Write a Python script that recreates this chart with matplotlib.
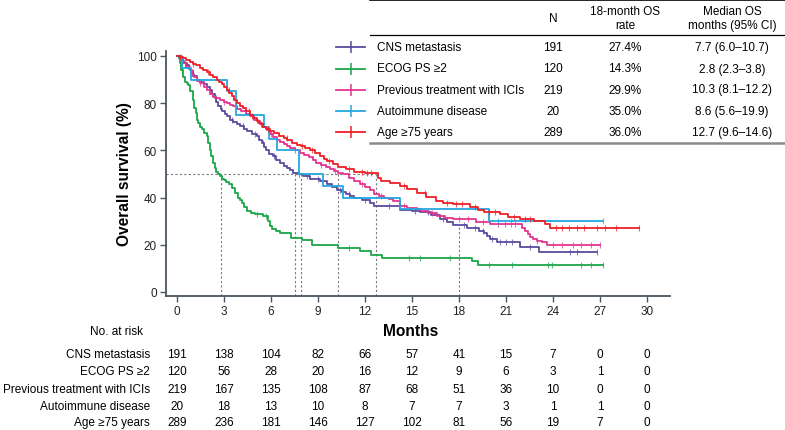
import numpy as np
import matplotlib
matplotlib.use("Agg")
import matplotlib.pyplot as plt
from matplotlib.lines import Line2D
from matplotlib.transforms import blended_transform_factory

plt.rcParams['font.family'] = ['Liberation Sans', 'DejaVu Sans']

W, H = 785, 431

# Kaplan-Meier curves (months, survival %)
groups = ["CNS metastasis", "ECOG PS \u22652", "Previous treatment with ICIs",
          "Autoimmune disease", "Age \u226575 years"]
colors = ["#5b4b9e", "#1aa64b", "#e5358f", "#25a7e0", "#ee1f26"]

cns_t = [0, 0.15, 0.3, 0.45, 0.62, 0.75, 0.9, 1.05, 1.26, 1.45, 1.7, 1.9, 2.1, 2.25, 2.4,
         2.52, 2.64, 2.8, 2.9, 3.05, 3.17, 3.4, 3.6, 3.8, 4.0, 4.25, 4.5, 4.8, 5.1, 5.25,
         5.4, 5.55, 5.7, 5.9, 6.1, 6.3, 6.57, 6.8, 7.0, 7.2, 7.42, 7.7, 8.06, 8.5, 9.1,
         9.6, 9.9, 10.2, 10.5, 10.8, 11.05, 11.3, 11.8, 12.3, 12.6, 14.2, 15.0, 15.5,
         16.2, 16.8, 17.2, 17.6, 18.5, 19.3, 19.6, 19.8, 20.0, 20.4, 21.9, 23.1]
cns_s = [100, 99, 98, 97, 96, 94.5, 93, 91.5, 90, 89, 88, 87, 85.7, 84, 82,
         80.5, 78.6, 77.5, 76.5, 75.5, 74.4, 73, 72, 71, 70.2, 69, 68, 67, 66, 64.5,
         63, 61.5, 60.3, 58.5, 57.5, 56, 54.7, 53.5, 52.5, 51.5, 50.5, 49.8, 49, 48, 47,
         45.6, 44.5, 43, 42.2, 41.5, 40.8, 40, 39, 37.8, 36.4, 34.7, 34.3, 33.9,
         32.5, 31.1, 29.8, 28.3, 27.3, 26, 25.2, 23.8, 22.4, 21.2, 19.2, 17.0]
cns_end = 26.8
cns_cens = [0.3, 1.0, 2.5, 3.5, 4.2, 5.0, 5.5, 6.2, 7.8, 8.3, 9.0, 10.4, 11.0, 12.0, 13.5,
            15.2, 16.0, 17.0, 18.3, 19.0, 19.5, 20.1, 20.6, 21.0, 21.4, 22.5, 25.1, 25.5,
            26.8]

ecog_t = [0, 0.1, 0.19, 0.28, 0.36, 0.5, 0.62, 0.72, 0.85, 1.0, 1.1, 1.2, 1.3, 1.36, 1.5,
          1.6, 1.75, 1.9, 2.0, 2.1, 2.2, 2.32, 2.42, 2.5, 2.62, 2.74, 2.87, 3.0, 3.15,
          3.3, 3.5, 3.7, 3.9, 4.0, 4.13, 4.3, 4.5, 4.75, 5.0, 5.5, 5.8, 5.93, 6.05, 6.3,
          6.57, 7.3, 7.96, 8.6, 10.3, 11.7, 12.4, 13.1, 18.8, 19.2]
ecog_s = [100, 99, 97, 94, 91, 89, 88.5, 87.8, 85, 81.4, 78, 76, 73, 71.6, 70,
          69, 67.5, 66, 63, 60, 57.5, 54.7, 52.5, 51, 50, 49, 48, 47.5, 46.5,
          45.6, 44, 42, 40, 39, 37.8, 36, 34.3, 33.5, 32.9, 32, 30, 28, 26.6, 26,
          24.9, 22.8, 21.9, 19.8, 18.8, 17.4, 15.5, 14.6, 13.2, 11.4]
ecog_end = 27.2
ecog_cens = [0.3, 5.1, 5.7, 11.0, 14.8, 15.5, 17.4, 19.9, 21.4, 23.7, 23.9, 25.8, 26.4, 27.2]

ici_t = [0, 0.2, 0.4, 0.6, 0.83, 0.95, 1.1, 1.3, 1.47, 1.7, 1.9, 2.1, 2.32, 2.5, 2.74,
         3.0, 3.2, 3.4, 3.6, 3.85, 4.1, 4.4, 4.66, 4.9, 5.2, 5.45, 5.72, 5.95, 6.15, 6.36,
         6.6, 6.8, 7.0, 7.2, 7.5, 7.85, 8.1, 8.4, 8.65, 8.9, 9.2, 9.5, 9.75, 10.0, 10.3,
         10.6, 10.95, 11.3, 11.65, 12.0, 12.3, 12.6, 12.9, 13.2, 13.5, 13.8, 14.2, 14.7,
         15.3, 15.6, 16.0, 16.6, 17.1, 17.6, 19.1, 20.0, 22.0, 22.2, 22.4, 22.55, 22.7,
         23.0, 23.3, 23.6]
ici_s = [100, 98.5, 97, 95.5, 94, 92.5, 91, 89.5, 88.5, 87, 85.5, 84, 82.8, 82, 81.4,
         80.5, 80, 79.3, 78.6, 77.5, 76.5, 75.5, 74.4, 73, 71.5, 70, 68.8, 67, 65.8, 64.6,
         63.5, 62.5, 61.8, 61, 60, 58.9, 58, 57, 55.8, 54.7, 54, 53, 52, 51.2, 50.3,
         49.8, 48.5, 47, 45.8, 44.5, 43, 41.4, 40.8, 40, 39.3, 38.5, 36.4, 35.7,
         35, 34.3, 33.5, 32.2, 31.5, 30.8, 29.7, 28.7, 27.3, 26, 24.5, 23.5, 22.4,
         21.7, 21.0, 19.8]
ici_end = 27.0
ici_cens = [0.5, 1.5, 3.0, 4.8, 6.0, 7.5, 9.2, 10.1, 11.8, 13.0, 14.5, 16.3, 18.0, 18.6,
            19.5, 20.5, 20.9, 21.3, 21.6, 23.0, 24.0, 24.6, 25.3, 25.8, 26.4, 27.0]

auto_t = [0, 0.3, 0.92, 3.2, 3.75, 5.55, 5.88, 6.38, 7.8, 9.3, 10.6, 14.2, 19.9]
auto_s = [100, 95, 90, 85, 75, 70, 65, 60, 50, 45, 40, 35, 30]
auto_end = 27.2
auto_cens = [20.5, 21.3, 27.2]

age_t = [0, 0.2, 0.4, 0.6, 0.83, 1.0, 1.2, 1.45, 1.68, 1.9, 2.1, 2.3, 2.53, 2.7, 2.85,
         3.0, 3.17, 3.35, 3.5, 3.65, 3.8, 4.0, 4.2, 4.43, 4.65, 4.85, 5.1, 5.3, 5.5, 5.7,
         5.95, 6.2, 6.5, 6.8, 7.05, 7.35, 7.64, 7.9, 8.2, 8.5, 8.8, 9.1, 9.35, 9.6, 9.95,
         10.3, 10.8, 11.3, 12.0, 12.65, 12.8, 13.0, 13.6, 14.2, 14.7, 15.3, 15.9, 16.5,
         17.0, 17.6, 18.7, 19.2, 19.6, 20.6, 21.1, 21.9, 22.8, 23.5, 23.8]
age_s = [100, 99.5, 99, 98.3, 97.6, 96.8, 96, 95, 94.1, 93, 92, 91, 89.9, 89, 88,
         86.8, 85.7, 84.3, 83, 81.5, 80, 79, 78, 76.5, 75, 73.6, 72.3, 71, 70, 69,
         68.1, 67.2, 66.2, 65.3, 64.3, 63.3, 62.4, 61.7, 61, 60.3, 59, 57.5, 56.5, 55.5,
         54.3, 53, 52, 50.8, 50.6, 50.3, 48.5, 47, 46, 44.9, 43.5, 42.1, 40.3, 38.5,
         37.8, 37.1, 35.8, 34.8, 33.8, 33.2, 31.9, 31.1, 30.1, 28.7, 26.9]
age_end = 29.5
age_cens = [0.2, 1.0, 2.0, 3.3, 4.6, 5.8, 7.0, 8.0, 8.6, 9.7, 11.0, 11.8, 12.1, 12.4, 14.5,
            15.8, 17.2, 17.8, 18.2, 19.0, 19.9, 20.3, 21.5, 22.2, 22.5, 24.2, 24.6, 25.0,
            25.5, 26.0, 26.8, 27.3, 28.0, 29.5]

curves = [(cns_t, cns_s, cns_end, cns_cens),
          (ecog_t, ecog_s, ecog_end, ecog_cens),
          (ici_t, ici_s, ici_end, ici_cens),
          (auto_t, auto_s, auto_end, auto_cens),
          (age_t, age_s, age_end, age_cens)]

# summary table
n_pat = [191, 120, 219, 20, 289]
os18 = ["27.4%", "14.3%", "29.9%", "35.0%", "36.0%"]
median_os = ["7.7 (6.0\u201310.7)", "2.8 (2.3\u20133.8)", "10.3 (8.1\u201312.2)",
             "8.6 (5.6\u201319.9)", "12.7 (9.6\u201314.6)"]

# median reference lines as drawn
median_x = [2.8, 7.5, 7.9, 10.3, 12.7]
rate_x = 18
rate_y = 27.4

# number at risk
risk_times = [0, 3, 6, 9, 12, 15, 18, 21, 24, 27, 30]
at_risk = [[191, 138, 104, 82, 66, 57, 41, 15, 7, 0, 0],
           [120, 56, 28, 20, 16, 12, 9, 6, 3, 1, 0],
           [219, 167, 135, 108, 87, 68, 51, 36, 10, 0, 0],
           [20, 18, 13, 10, 8, 7, 7, 3, 1, 1, 0],
           [289, 236, 181, 146, 127, 102, 81, 56, 19, 7, 0]]


def px(x, y):
    return x / W, 1 - y / H


fig = plt.figure(figsize=(W / 100, H / 100), dpi=100)
ax = fig.add_axes([166 / W, 1 - 297 / H, 504 / W, 245 / H])
ax.set_xlim(-0.7, 31.46)
ax.set_ylim(-1.7, 102.1)

spine_c = "#4a5561"
for k in ["top", "right"]:
    ax.spines[k].set_visible(False)
for k in ["left", "bottom"]:
    ax.spines[k].set_color(spine_c)
    ax.spines[k].set_linewidth(1.3)
ax.set_xticks(risk_times)
ax.set_yticks([0, 20, 40, 60, 80, 100])
ax.tick_params(direction="out", length=4, width=1.0, color=spine_c,
               labelsize=8.5, labelcolor="#222222", pad=2.5)

# dashed guides
dash = dict(color="#7a7a7a", lw=0.8, ls=(0, (2, 2)), zorder=1)
ax.plot([-0.7, max(median_x)], [50, 50], **dash)
for m in median_x:
    ax.plot([m, m], [-1.7, 50], **dash)
ax.plot([rate_x, rate_x], [-1.7, rate_y], **dash)

order = [1, 0, 2, 3, 4]
for i in order:
    t, s, end, cens = curves[i]
    tt = list(t) + [end]
    ss = list(s) + [s[-1]]
    ax.step(tt, ss, where="post", color=colors[i], lw=1.3, zorder=3 + i)
    t_arr = np.array(t)
    idx = np.searchsorted(t_arr, cens, side="right") - 1
    cy = np.array(s)[idx]
    ax.plot(cens, cy, ls="none", marker="|", ms=5, mew=0.8, color=colors[i],
            alpha=0.7, zorder=3 + i)

ax.set_ylabel("Overall survival (%)", fontsize=11.2, fontweight="bold", labelpad=4)
fig.text(*px(411, 332), "Months", fontsize=11.2, fontweight="bold",
         ha="center", va="center")

# number at risk table
fig.text(*px(116, 332), "No. at risk", fontsize=8.5, ha="center", va="center")
tr = blended_transform_factory(ax.transData, fig.transFigure)
row_y = [355, 372.5, 390, 407, 423.5]
for r, g in enumerate(groups):
    fig.text(*px(150, row_y[r]), g, fontsize=8.5, ha="right", va="center")
    for tx, v in zip(risk_times, at_risk[r]):
        fig.text(tx, 1 - row_y[r] / H, str(v), transform=tr, fontsize=8.5,
                 ha="center", va="center")

# summary table with legend
x0, x1 = 370 / W, 1.0
fig.add_artist(Line2D([x0, x1], [1 - 1 / H] * 2, color="black", lw=1.2))
fig.add_artist(Line2D([x0, x1], [1 - 36 / H] * 2, color="black", lw=0.9))
fig.add_artist(Line2D([x0, x1], [1 - 144 / H] * 2, color="#8a8a8a", lw=1.8))
fig.text(*px(553, 19), "N", fontsize=8.5, ha="center", va="center")
fig.text(*px(625, 19), "18-month OS\nrate", fontsize=8.5, ha="center", va="center",
         linespacing=1.25)
fig.text(*px(732, 19), "Median OS\nmonths (95% CI)", fontsize=8.5, ha="center",
         va="center", linespacing=1.25)
tab_y = [47.7, 69.5, 90.5, 111.7, 133.3]
for r, g in enumerate(groups):
    yy = 1 - tab_y[r] / H
    fig.add_artist(Line2D([336 / W, 365 / W], [yy, yy], color=colors[r], lw=1.3))
    fig.add_artist(Line2D([350.5 / W], [yy], color=colors[r], marker="|", ms=8, mew=1.1))
    fig.text(377 / W, yy, g, fontsize=8.5, ha="left", va="center")
    fig.text(553 / W, yy, str(n_pat[r]), fontsize=8.5, ha="center", va="center")
    fig.text(625 / W, yy, os18[r], fontsize=8.5, ha="center", va="center")
    fig.text(732 / W, yy, median_os[r], fontsize=8.5, ha="center", va="center")

fig.savefig("out.png", dpi=100)
